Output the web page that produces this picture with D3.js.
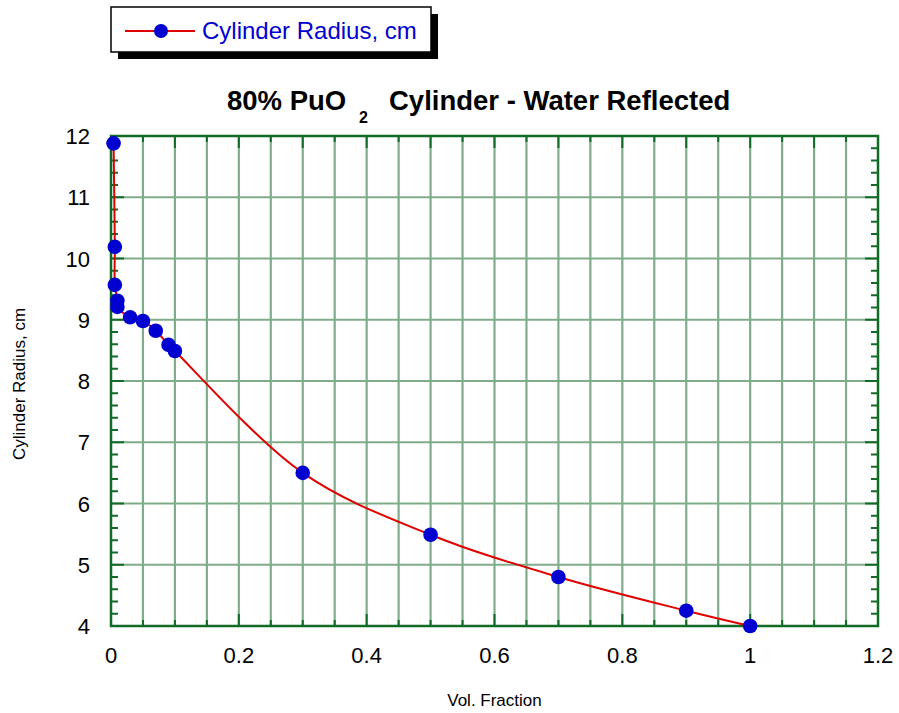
<!DOCTYPE html>
<html>
<head>
<meta charset="utf-8">
<script src="https://cdn.jsdelivr.net/npm/d3@7"></script>
<style>
  html, body { margin: 0; padding: 0; background: #ffffff; }
  svg { display: block; }
  text { font-family: "Liberation Sans", Arial, Helvetica, sans-serif; }
</style>
</head>
<body>
<svg id="chart" width="899" height="713"></svg>
<script>
// ---- data ----
const volFraction = [0.004, 0.006, 0.006, 0.01, 0.01, 0.03, 0.05, 0.07, 0.09, 0.1, 0.3, 0.5, 0.7, 0.9, 1.0];
const cylinderRadius = [11.88, 10.19, 9.57, 9.31, 9.21, 9.04, 8.98, 8.82, 8.59, 8.49, 6.5, 5.49, 4.8, 4.25, 4.0];
const xTickLabels = [0, 0.2, 0.4, 0.6, 0.8, 1, 1.2];
const yTickLabels = [4, 5, 6, 7, 8, 9, 10, 11, 12];
const seriesName = "Cylinder Radius, cm";
const titleMain = "80% PuO";
const titleSub = "2";
const titleRest = "Cylinder - Water Reflected";
const xTitle = "Vol. Fraction";
const yTitle = "Cylinder Radius, cm";

(function () {
const points = volFraction.map((v, i) => ({ x: v, y: cylinderRadius[i] }));

const svg = d3.select("#chart");
const pL = 111, pR = 878, pT = 136, pB = 626;
const x = d3.scaleLinear().domain([0, 1.2]).range([pL, pR]);
const y = d3.scaleLinear().domain([4, 12]).range([pB, pT]);

const frameColor = "#116b27";
const gridColor = "#7fad89";

// ---- grid ----
const xGrid = d3.range(1, 24).map(i => i * 0.05);
const yGrid = d3.range(5, 12);
svg.append("g").selectAll("line").data(xGrid).join("line")
  .attr("x1", d => x(d)).attr("x2", d => x(d))
  .attr("y1", pT).attr("y2", pB)
  .attr("stroke", gridColor).attr("stroke-width", 2.2);
svg.append("g").selectAll("line").data(yGrid).join("line")
  .attr("y1", d => y(d)).attr("y2", d => y(d))
  .attr("x1", pL).attr("x2", pR)
  .attr("stroke", gridColor).attr("stroke-width", 2.2);

// ---- ticks ----
const xMinor = d3.range(0, 25).map(i => +(i * 0.05).toFixed(2));
const yMinor = d3.range(0, 41).map(i => +(4 + i * 0.2).toFixed(2));
const isMult = (v, m) => Math.abs(v / m - Math.round(v / m)) < 1e-6;
const tb = svg.append("g").attr("stroke", frameColor).attr("stroke-width", 2);
tb.selectAll("line").data(xMinor).join("line")
  .attr("x1", d => x(d)).attr("x2", d => x(d))
  .attr("y1", pB).attr("y2", d => pB - (isMult(d, 0.2) ? 12 : 6));
const tt = svg.append("g").attr("stroke", frameColor).attr("stroke-width", 2);
tt.selectAll("line").data(xMinor).join("line")
  .attr("x1", d => x(d)).attr("x2", d => x(d))
  .attr("y1", pT).attr("y2", d => pT + (isMult(d, 0.1) ? 12 : 6));
const tl = svg.append("g").attr("stroke", frameColor).attr("stroke-width", 2);
tl.selectAll("line").data(yMinor).join("line")
  .attr("y1", d => y(d)).attr("y2", d => y(d))
  .attr("x1", pL).attr("x2", d => pL + (isMult(d, 1) ? 13 : 7));
const tr = svg.append("g").attr("stroke", frameColor).attr("stroke-width", 2);
tr.selectAll("line").data(yMinor).join("line")
  .attr("y1", d => y(d)).attr("y2", d => y(d))
  .attr("x1", pR).attr("x2", d => pR - (isMult(d, 1) ? 13 : 7));

// ---- frame ----
svg.append("rect")
  .attr("x", pL).attr("y", pT)
  .attr("width", pR - pL).attr("height", pB - pT)
  .attr("fill", "none").attr("stroke", frameColor).attr("stroke-width", 2.5);

// ---- tick labels ----
svg.append("g").selectAll("text").data(xTickLabels).join("text")
  .attr("x", d => x(d)).attr("y", pB + 37)
  .attr("text-anchor", "middle").attr("font-size", 22).attr("fill", "#000")
  .text(d => d);
svg.append("g").selectAll("text").data(yTickLabels).join("text")
  .attr("x", 90).attr("y", d => y(d) + 8)
  .attr("text-anchor", "end").attr("font-size", 22).attr("fill", "#000")
  .text(d => d);

// ---- axis titles ----
svg.append("text").attr("x", (pL + pR) / 2).attr("y", 706)
  .attr("text-anchor", "middle").attr("font-size", 17).text(xTitle);
svg.append("text").attr("transform", `translate(25,${(pT + pB) / 2 + 3}) rotate(-90)`)
  .attr("text-anchor", "middle").attr("font-size", 17).text(yTitle);

// ---- title ----
const t = svg.append("text").attr("font-weight", "bold").attr("font-size", 27.5).attr("fill", "#000");
t.append("tspan").attr("x", 227).attr("y", 110).text(titleMain);
t.append("tspan").attr("x", 359).attr("y", 123).attr("font-size", 16).text(titleSub);
t.append("tspan").attr("x", 389).attr("y", 110).text(titleRest);

// ---- series line ----
const line = d3.line().x(d => x(d.x)).y(d => y(d.y)).curve(d3.curveCatmullRom.alpha(0.5));
svg.append("path").datum(points)
  .attr("d", line).attr("fill", "none")
  .attr("stroke", "#e00000").attr("stroke-width", 2);
svg.append("g").selectAll("circle").data(points).join("circle")
  .attr("cx", d => x(d.x)).attr("cy", d => y(d.y)).attr("r", 7.3)
  .attr("fill", "#0000d0");

// ---- legend ----
const lg = svg.append("g");
lg.append("rect").attr("x", 118).attr("y", 14).attr("width", 320).attr("height", 45).attr("fill", "#000");
lg.append("rect").attr("x", 111).attr("y", 7).attr("width", 320).attr("height", 45)
  .attr("fill", "#fff").attr("stroke", "#000").attr("stroke-width", 1.5);
lg.append("line").attr("x1", 125).attr("x2", 195).attr("y1", 31).attr("y2", 31)
  .attr("stroke", "#e00000").attr("stroke-width", 2);
lg.append("circle").attr("cx", 161).attr("cy", 31).attr("r", 7).attr("fill", "#0000d0");
lg.append("text").attr("x", 202).attr("y", 39).attr("font-size", 24).attr("fill", "#0000d0").text(seriesName);
})();
</script>
</body>
</html>
